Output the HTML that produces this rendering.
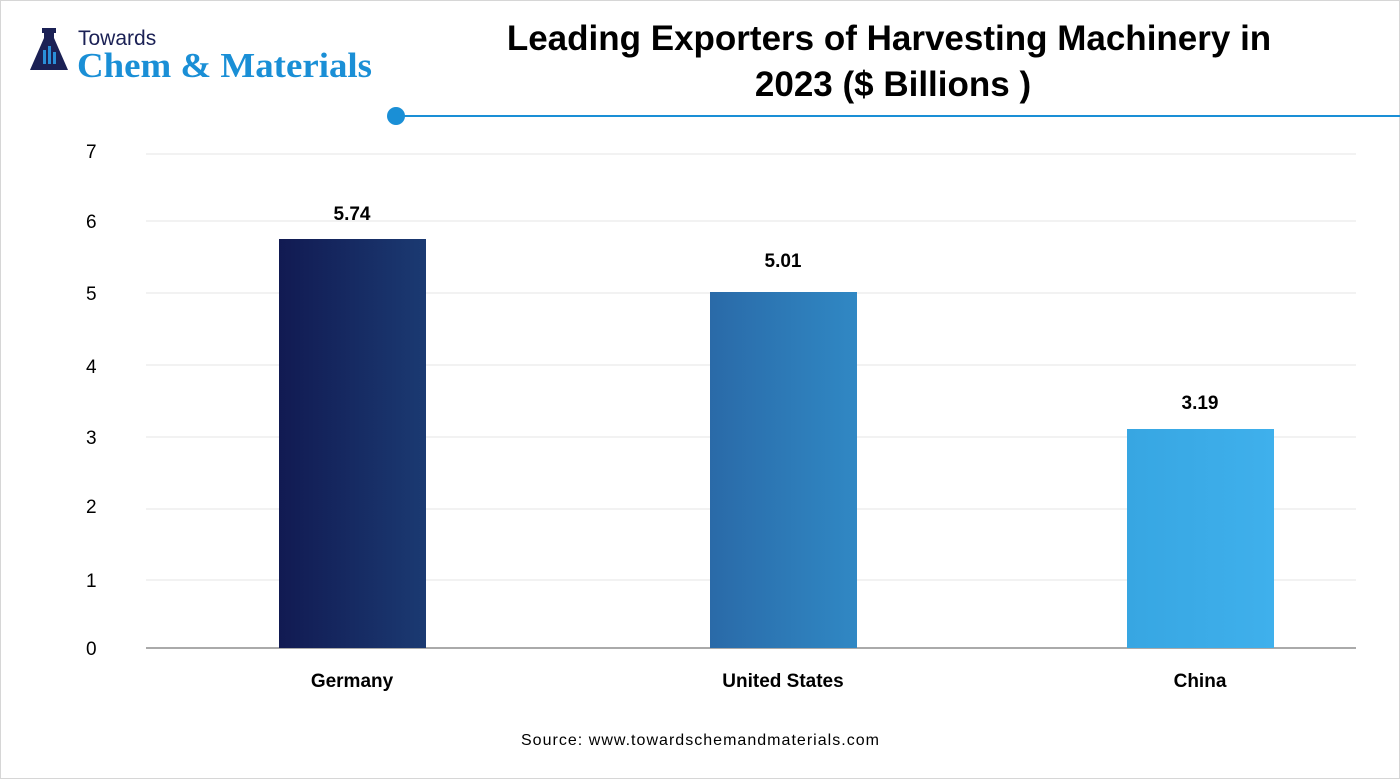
<!DOCTYPE html>
<html><head><meta charset="utf-8"><style>
body{margin:0;width:1400px;height:779px;overflow:hidden;background:#fff;font-family:"Liberation Sans",sans-serif}
</style></head><body>
<svg width="1400" height="779" xmlns="http://www.w3.org/2000/svg" font-family="Liberation Sans, sans-serif">
<defs>
<linearGradient id="g1" x1="0" x2="1"><stop offset="0" stop-color="#111a52"/><stop offset="1" stop-color="#1b3a72"/></linearGradient>
<linearGradient id="g2" x1="0" x2="1"><stop offset="0" stop-color="#2a6aa8"/><stop offset="1" stop-color="#3088c4"/></linearGradient>
<linearGradient id="g3" x1="0" x2="1"><stop offset="0" stop-color="#37a6e2"/><stop offset="1" stop-color="#3fb0ec"/></linearGradient>
</defs>
<rect x="0.5" y="0.5" width="1399" height="778" fill="#fff" stroke="#d6d6d6"/>
<path d="M44 30h10v8l14 32h-38l14-32z" fill="#1b2155"/>
<rect x="42" y="28" width="14" height="5" fill="#1b2155"/>
<rect x="43" y="50" width="3" height="14" fill="#2a8fd8"/><rect x="48" y="46" width="3" height="18" fill="#2a8fd8"/><rect x="53" y="52" width="3" height="12" fill="#2a8fd8"/>
<text x="78" y="45" font-size="21" fill="#1b2155">Towards</text>
<text x="77" y="77" font-size="35" font-weight="bold" fill="#1a8fd6" font-family="Liberation Serif, serif" textLength="295" lengthAdjust="spacingAndGlyphs">Chem &amp; Materials</text>
<text x="889" y="50" font-size="35" font-weight="bold" text-anchor="middle" fill="#000">Leading Exporters of Harvesting Machinery in</text>
<text x="893" y="96" font-size="35" font-weight="bold" text-anchor="middle" fill="#000">2023 ($ Billions )</text>
<line x1="396" y1="116" x2="1400" y2="116" stroke="#1a8fd6" stroke-width="2"/>
<circle cx="396" cy="116" r="9" fill="#1a8fd6"/>
<g stroke="#e6e6e6" stroke-width="1">
<line x1="146" x2="1356" y1="154" y2="154"/><line x1="146" x2="1356" y1="221" y2="221"/>
<line x1="146" x2="1356" y1="293" y2="293"/><line x1="146" x2="1356" y1="365" y2="365"/>
<line x1="146" x2="1356" y1="437" y2="437"/><line x1="146" x2="1356" y1="509" y2="509"/>
<line x1="146" x2="1356" y1="580" y2="580"/>
</g>
<line x1="146" x2="1356" y1="648" y2="648" stroke="#555" stroke-width="1"/>
<g font-size="19" fill="#000" text-anchor="start">
<text x="86" y="158">7</text><text x="86" y="228">6</text><text x="86" y="300">5</text>
<text x="86" y="373">4</text><text x="86" y="444">3</text><text x="86" y="513">2</text>
<text x="86" y="587">1</text><text x="86" y="655">0</text>
</g>
<rect x="279" y="239" width="147" height="409" fill="url(#g1)"/>
<rect x="710" y="292" width="147" height="356" fill="url(#g2)"/>
<rect x="1127" y="429" width="147" height="219" fill="url(#g3)"/>
<g font-size="19" font-weight="bold" text-anchor="middle" fill="#000">
<text x="352" y="220">5.74</text><text x="783" y="267">5.01</text><text x="1200" y="409">3.19</text>
<text x="352" y="687">Germany</text><text x="783" y="687">United States</text><text x="1200" y="687">China</text>
</g>
<text x="521" y="745" font-size="16" fill="#000" textLength="358" lengthAdjust="spacing">Source: www.towardschemandmaterials.com</text>
</svg>
</body></html>
